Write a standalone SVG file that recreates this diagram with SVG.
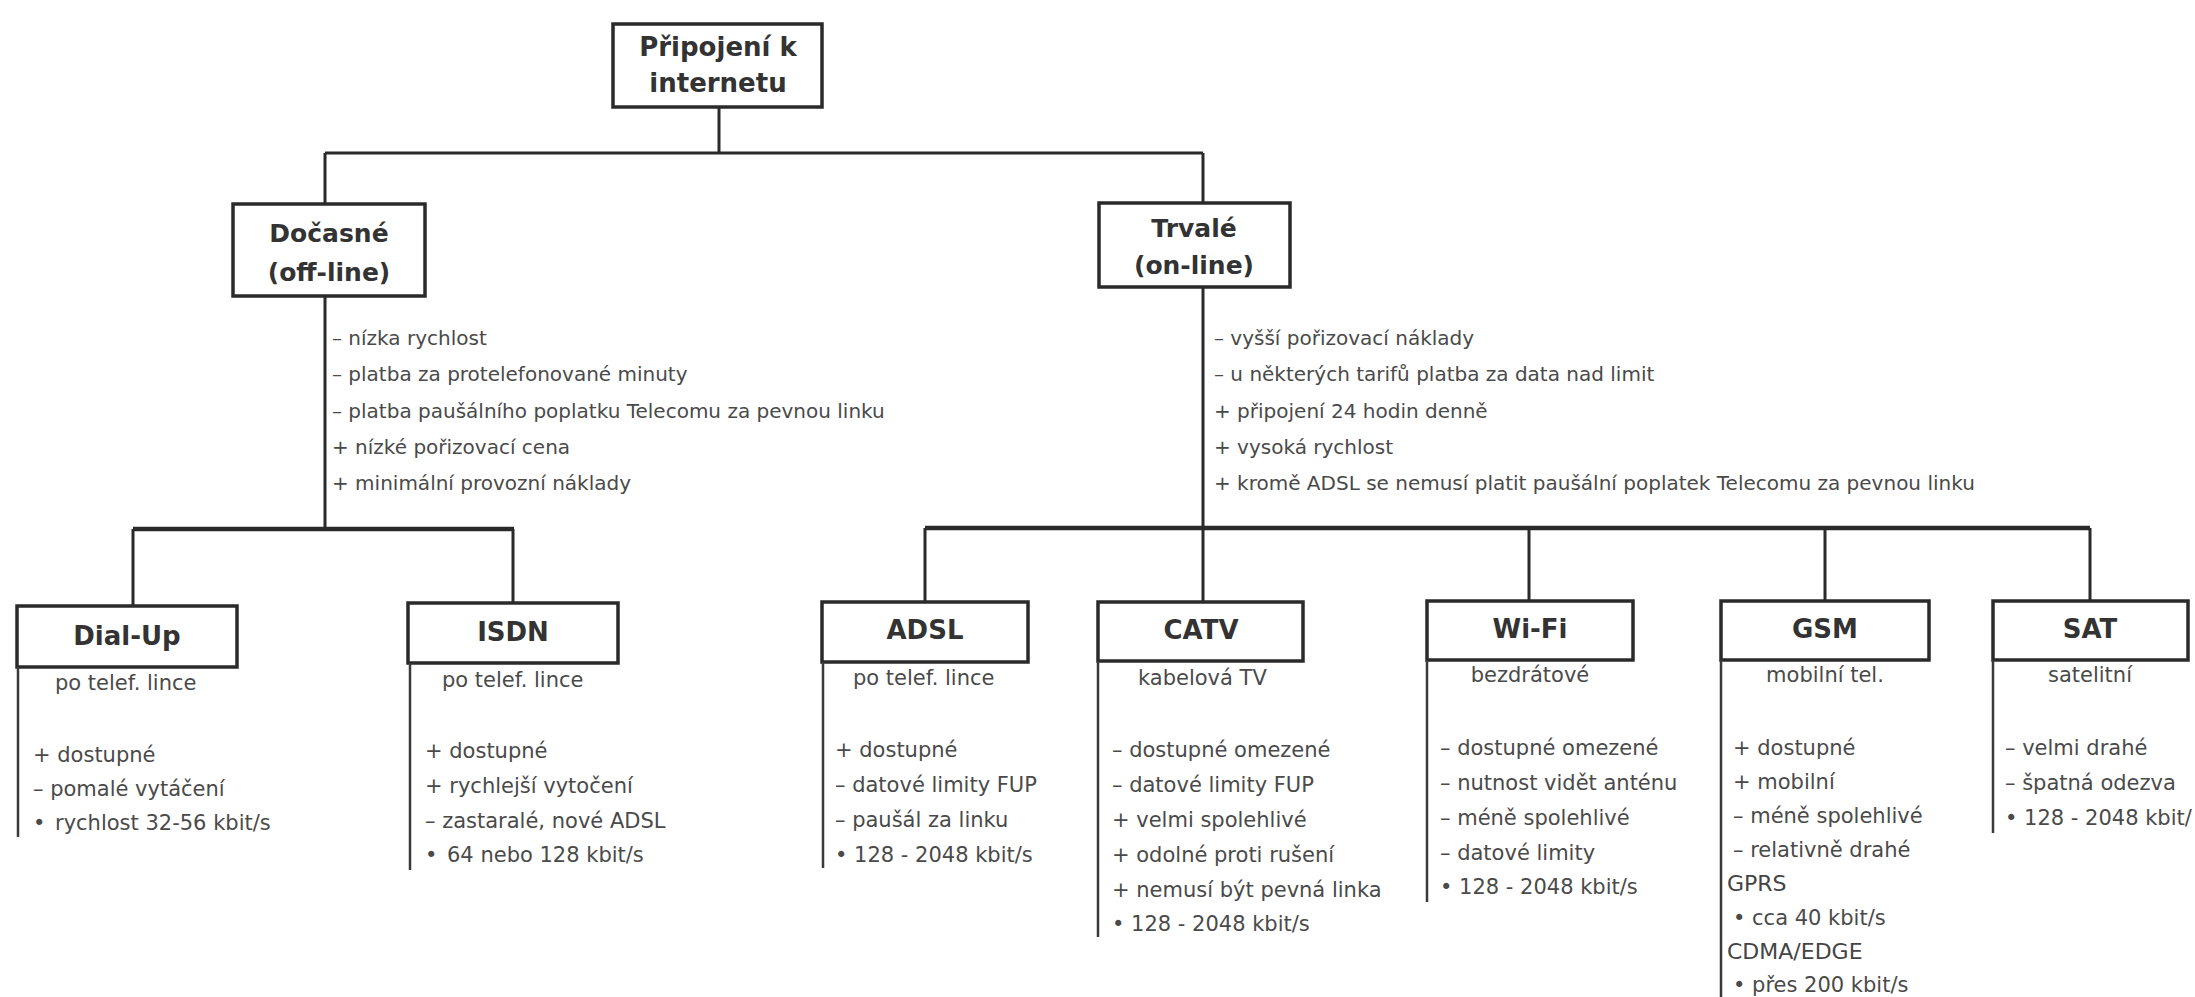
<svg xmlns="http://www.w3.org/2000/svg" width="2195" height="997" viewBox="0 0 2195 997">
<style>
.bg{fill:#ffffff}
.box{fill:#ffffff;stroke:#2a2a2a;stroke-width:3.5}
.ln{fill:none;stroke:#2a2a2a;stroke-width:3}
.lnt{fill:none;stroke:#2a2a2a;stroke-width:4.5}
.side{fill:none;stroke:#3a3a3a;stroke-width:2.5}
.t1{font-family:"DejaVu Sans",sans-serif;font-weight:bold;font-size:26px;fill:#333;text-anchor:middle}
.t2{font-family:"DejaVu Sans",sans-serif;font-weight:bold;font-size:25px;fill:#333;text-anchor:middle}
.nt{font-family:"DejaVu Sans",sans-serif;font-weight:bold;font-size:26px;fill:#333;text-anchor:middle}
.up{font-family:"DejaVu Sans",sans-serif;font-size:20px;fill:#4a4a4a}
.li{font-family:"DejaVu Sans",sans-serif;font-size:21px;fill:#4a4a4a}
.sub{font-family:"DejaVu Sans",sans-serif;font-size:21px;fill:#4a4a4a}
.mid{text-anchor:middle}
.hd{font-family:"DejaVu Sans",sans-serif;font-size:22px;fill:#444}
</style>
<rect class="bg" x="0" y="0" width="2195" height="997"/>
<g id="connectors">
<path class="ln" d="M719 107 V153 M325 153 H1203 M325 153 V204 M1203 153 V203"/>
<path class="ln" d="M325 296 V529 M1203 287 V602"/>
<path class="lnt" d="M133 529 H514 M925 528 H2090"/>
<path class="ln" d="M133 529 V606 M513 529 V603 M925 528 V602 M1529 528 V601 M1825 528 V601 M2090 528 V601"/>
</g>
<g id="root">
<rect class="box" x="613" y="24" width="209" height="83"/>
<text class="t1" x="718" y="56">Připojení k</text>
<text class="t1" x="718" y="92">internetu</text>
</g>
<g id="docasne">
<rect class="box" x="233" y="204" width="192" height="92"/>
<text class="t2" x="329" y="242">Dočasné</text>
<text class="t2" x="329" y="281">(off-line)</text>
<text class="up" x="332" y="345">– nízka rychlost</text>
<text class="up" x="332" y="381">– platba za protelefonované minuty</text>
<text class="up" x="332" y="418">– platba paušálního poplatku Telecomu za pevnou linku</text>
<text class="up" x="332" y="454">+ nízké pořizovací cena</text>
<text class="up" x="332" y="490">+ minimální provozní náklady</text>
</g>
<g id="trvale">
<rect class="box" x="1099" y="203" width="191" height="84"/>
<text class="t2" x="1194" y="237">Trvalé</text>
<text class="t2" x="1194" y="274">(on-line)</text>
<text class="up" x="1214" y="345">– vyšší pořizovací náklady</text>
<text class="up" x="1214" y="381">– u některých tarifů platba za data nad limit</text>
<text class="up" x="1214" y="418">+ připojení 24 hodin denně</text>
<text class="up" x="1214" y="454">+ vysoká rychlost</text>
<text class="up" x="1214" y="490">+ kromě ADSL se nemusí platit paušální poplatek Telecomu za pevnou linku</text>
</g>
<g id="dialup">
<rect class="box" x="17" y="606" width="220" height="61"/>
<text class="nt" x="127" y="645">Dial-Up</text>
<path class="side" d="M18 667 V837"/>
<text class="sub" x="55" y="690">po telef. lince</text>
<text class="li" x="33" y="762">+ dostupné</text>
<text class="li" x="33" y="796">– pomalé vytáčení</text>
<text class="li" x="33" y="830">•<tspan x="55">rychlost 32-56 kbit/s</tspan></text>
</g>
<g id="isdn">
<rect class="box" x="408" y="603" width="210" height="60"/>
<text class="nt" x="513" y="641">ISDN</text>
<path class="side" d="M410 663 V870"/>
<text class="sub" x="442" y="687">po telef. lince</text>
<text class="li" x="425" y="758">+ dostupné</text>
<text class="li" x="425" y="793">+ rychlejší vytočení</text>
<text class="li" x="425" y="828">– zastaralé, nové ADSL</text>
<text class="li" x="425" y="862">•<tspan x="447">64 nebo 128 kbit/s</tspan></text>
</g>
<g id="adsl">
<rect class="box" x="822" y="602" width="206" height="60"/>
<text class="nt" x="925" y="639">ADSL</text>
<path class="side" d="M823 662 V868"/>
<text class="sub" x="853" y="685">po telef. lince</text>
<text class="li" x="835" y="757">+ dostupné</text>
<text class="li" x="835" y="792">– datové limity FUP</text>
<text class="li" x="835" y="827">– paušál za linku</text>
<text class="li" x="835" y="862">• 128 - 2048 kbit/s</text>
</g>
<g id="catv">
<rect class="box" x="1098" y="602" width="205" height="59"/>
<text class="nt" x="1201" y="639">CATV</text>
<path class="side" d="M1098 661 V937"/>
<text class="sub" x="1138" y="685">kabelová TV</text>
<text class="li" x="1112" y="757">– dostupné omezené</text>
<text class="li" x="1112" y="792">– datové limity FUP</text>
<text class="li" x="1112" y="827">+ velmi spolehlivé</text>
<text class="li" x="1112" y="862">+ odolné proti rušení</text>
<text class="li" x="1112" y="897">+ nemusí být pevná linka</text>
<text class="li" x="1112" y="931">• 128 - 2048 kbit/s</text>
</g>
<g id="wifi">
<rect class="box" x="1427" y="601" width="206" height="59"/>
<text class="nt" x="1530" y="638">Wi-Fi</text>
<path class="side" d="M1427 660 V902"/>
<text class="sub mid" x="1530" y="682">bezdrátové</text>
<text class="li" x="1440" y="755">– dostupné omezené</text>
<text class="li" x="1440" y="790">– nutnost vidět anténu</text>
<text class="li" x="1440" y="825">– méně spolehlivé</text>
<text class="li" x="1440" y="860">– datové limity</text>
<text class="li" x="1440" y="894">• 128 - 2048 kbit/s</text>
</g>
<g id="gsm">
<rect class="box" x="1721" y="601" width="208" height="59"/>
<text class="nt" x="1825" y="638">GSM</text>
<path class="side" d="M1721 660 V997"/>
<text class="sub mid" x="1825" y="682">mobilní tel.</text>
<text class="li" x="1733" y="755">+ dostupné</text>
<text class="li" x="1733" y="789">+ mobilní</text>
<text class="li" x="1733" y="823">– méně spolehlivé</text>
<text class="li" x="1733" y="857">– relativně drahé</text>
<text class="hd" x="1727" y="891">GPRS</text>
<text class="li" x="1733" y="925">• cca 40 kbit/s</text>
<text class="hd" x="1727" y="959">CDMA/EDGE</text>
<text class="li" x="1733" y="992">• přes 200 kbit/s</text>
</g>
<g id="sat">
<rect class="box" x="1993" y="601" width="195" height="59"/>
<text class="nt" x="2090" y="638">SAT</text>
<path class="side" d="M1993 660 V833"/>
<text class="sub mid" x="2090" y="682">satelitní</text>
<text class="li" x="2005" y="755">– velmi drahé</text>
<text class="li" x="2005" y="790">– špatná odezva</text>
<text class="li" x="2005" y="825">• 128 - 2048 kbit/</text>
</g>
</svg>
